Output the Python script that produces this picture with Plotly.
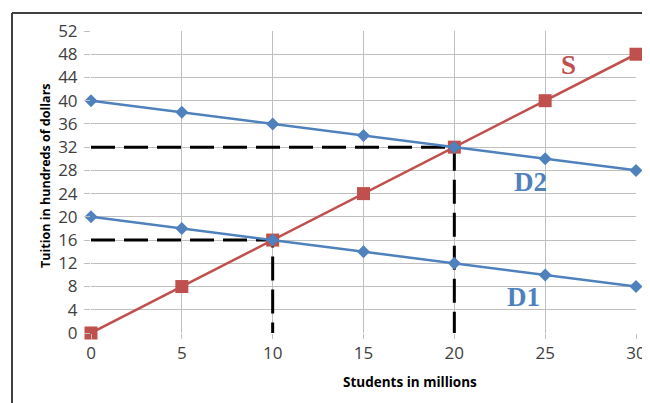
import plotly.graph_objects as go

students = [0, 5, 10, 15, 20, 25, 30]
d1 = [20, 18, 16, 14, 12, 10, 8]
d2 = [40, 38, 36, 34, 32, 30, 28]
s = [0, 8, 16, 24, 32, 40, 48]

eq1 = (10, 16)
eq2 = (20, 32)

blue = "#4F81BD"
red = "#C0504D"

fig = go.Figure()

# dashed guide lines
for ex, ey in [eq1, eq2]:
    fig.add_trace(go.Scatter(x=[0, ex, ex], y=[ey, ey, 0], mode="lines",
                             line=dict(color="black", width=3, dash="24px,9px"),
                             hoverinfo="skip", showlegend=False))

fig.add_trace(go.Scatter(x=students, y=s, mode="lines+markers", name="S", cliponaxis=False,
                         line=dict(color=red, width=2.5),
                         marker=dict(symbol="square", size=13, color=red)))
fig.add_trace(go.Scatter(x=students, y=d2, mode="lines+markers", name="D2", cliponaxis=False,
                         line=dict(color=blue, width=2.5),
                         marker=dict(symbol="diamond", size=10, color=blue)))
fig.add_trace(go.Scatter(x=students, y=d1, mode="lines+markers", name="D1", cliponaxis=False,
                         line=dict(color=blue, width=2.5),
                         marker=dict(symbol="diamond", size=10, color=blue)))

labels = [("S", 26.3, 46.1, red), ("D2", 24.2, 26.0, blue), ("D1", 23.8, 6.2, blue)]
for t, x, y, c in labels:
    fig.add_annotation(x=x, y=y, text="<b>%s</b>" % t, showarrow=False,
                       xanchor="center", yanchor="middle",
                       font=dict(family="Liberation Serif", size=27, color=c))

PW, PH = 545, 302  # plot area size in px
fig.add_annotation(xref="paper", yref="paper", x=(410 - 91) / PW, y=-(382 - 333) / PH,
                   xanchor="center", yanchor="middle",
                   text="<b>Students in millions</b>", showarrow=False,
                   font=dict(family="Open Sans", size=13.5, color="black"))
fig.add_annotation(xref="paper", yref="paper", x=-(91 - 45) / PW, y=(333 - 176) / PH,
                   xanchor="center", yanchor="middle",
                   text="<b>Tuition in hundreds of dollars</b>", showarrow=False, textangle=-90,
                   font=dict(family="Open Sans", size=12.5, color="black"))

# outer frame (top and left)
fig.add_shape(type="line", xref="paper", yref="paper", x0=-(91 - 12) / PW, x1=1 + 30 / PW,
              y0=1 + 18 / PH, y1=1 + 18 / PH, line=dict(color="#404040", width=2))
fig.add_shape(type="line", xref="paper", yref="paper", x0=-(91 - 12) / PW, x1=-(91 - 12) / PW,
              y0=1 + 18 / PH, y1=-80 / PH, line=dict(color="#404040", width=2))

tick_font = dict(family="Open Sans", size=17, color="#404040")
fig.update_xaxes(range=[0, 30], tickvals=students, showgrid=True, gridcolor="#BFBFBF",
                 gridwidth=1, zeroline=False, ticks="outside", ticklen=5, tickcolor="#BFBFBF",
                 showline=False, tickfont=tick_font, fixedrange=True)
fig.update_yaxes(range=[0, 52], tickvals=list(range(0, 53, 4)), showgrid=True,
                 gridcolor="#BFBFBF", gridwidth=1, zeroline=False, ticks="outside", ticklen=6,
                 tickcolor="#BFBFBF", showline=False, tickfont=tick_font, fixedrange=True,
                 ticklabelstandoff=3)

# page body has an 8px margin: offset margins so the plot area lands where the reference has it
fig.update_layout(width=650, height=403, margin=dict(l=83, r=22, t=23, b=78),
                  plot_bgcolor="white", paper_bgcolor="white", showlegend=False)

fig.write_html("out.html")
